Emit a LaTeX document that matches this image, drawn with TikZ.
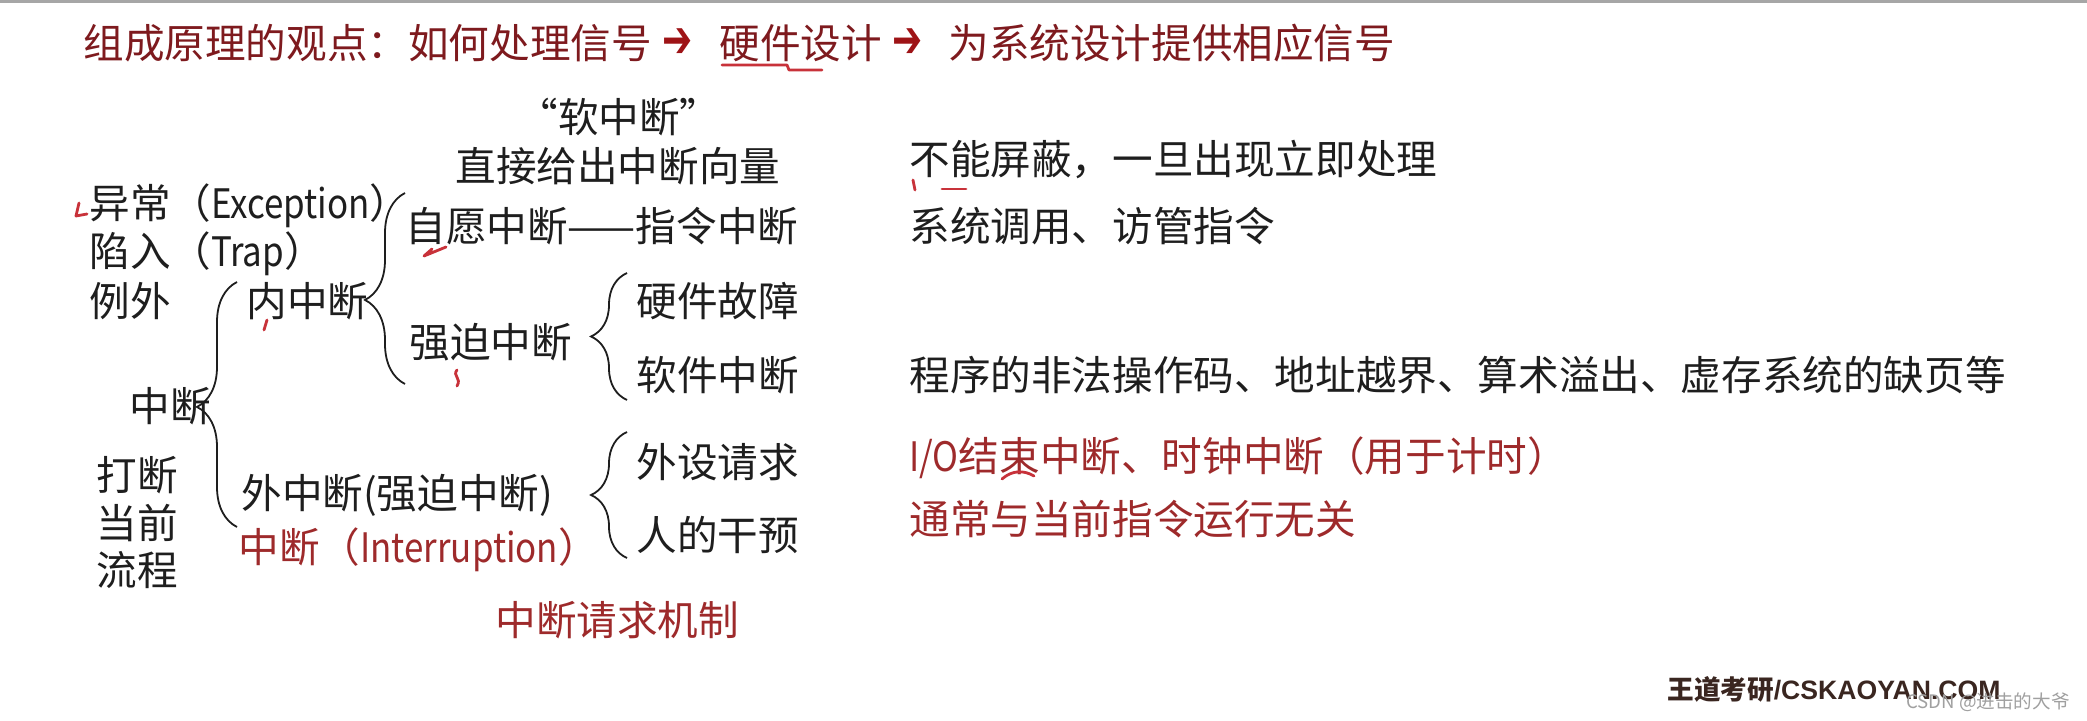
\documentclass[tikz,border=0pt]{standalone}
\usepackage{graphicx}
\usepackage{fontspec}
\setmainfont{Noto Sans CJK SC}
\newfontfamily\lat[FakeStretch=0.86]{Noto Sans CJK SC}
\newfontfamily\dejavu{DejaVu Sans}
\newfontfamily\brandlat{Liberation Sans}
\usetikzlibrary{decorations.pathreplacing}
\definecolor{ink}{HTML}{1E1E1E}
\definecolor{dred}{HTML}{7E1A1E}
\definecolor{tred}{HTML}{9E2A2B}
\definecolor{pen}{HTML}{C8323A}
\definecolor{wm}{HTML}{A0A0A0}
\definecolor{brand}{HTML}{3A2620}
\begin{document}
\begin{tikzpicture}[x=0.5pt,y=-0.5pt,
  txt/.style={anchor=west, inner sep=0, text=ink, font=\fontsize{20.3pt}{24pt}\selectfont},
  ttl/.style={anchor=west, inner sep=0, text=dred, font=\fontsize{20.3pt}{24pt}\selectfont},
  arw/.style={anchor=west, inner sep=0, text=dred!75!red, font=\dejavu\bfseries\fontsize{18pt}{22pt}\selectfont},
  rtxt/.style={txt, text=tred},
  brc/.style={draw=ink, line width=0.9pt, decorate, decoration={brace, amplitude=#1}},
  brc/.default=20,
  penmark/.style={draw=pen, line width=1.4pt, line cap=round, line join=round}]
\useasboundingbox (0,0) rectangle (2087,721);
\fill[white] (0,0) rectangle (2087,721);
\draw[gray!70, line width=1.5pt] (0,2) -- (2087,2);
% title
\node[ttl] (t1) at (83,43) {组成原理的观点：如何处理信号};
\node[arw] (a1) at (662,43) {\scalebox{1}[1.45]{➔}};
\node[ttl] (t2) at (719,43) {硬件设计};
\node[arw] (a2) at (892,43) {\scalebox{1}[1.45]{➔}};
\node[ttl] (t3) at (948,43) {为系统设计提供相应信号};
% tree
\node[txt, anchor=center] (soft) at (619,117) {“软中断”};
\node[txt] (vec) at (455,166) {直接给出中断向量};
\node[txt] (exc) at (89,206) {异常（{\lat Exception}）};
\node[txt] (trap) at (89,254) {陷入（{\lat Trap}）};
\node[txt] (liwai) at (89,301) {例外};
\node[txt] (zd) at (129,406) {中断};
\node[txt] (dd1) at (96,475) {打断};
\node[txt] (dd2) at (96,523) {当前};
\node[txt] (dd3) at (96,570) {流程};
\node[txt] (nei) at (246,301) {内中断};
\node[txt] (wai) at (241,495) {外中断(强迫中断)};
\node[rtxt] (intr) at (238,550) {中断（{\lat Interruption}）};
\node[txt] (zy) at (405,226) {自愿中断——指令中断};
\node[txt] (qp) at (409,342) {强迫中断};
\node[txt] (yj) at (636,301) {硬件故障};
\node[txt] (rj) at (636,375) {软件中断};
\node[txt] (ws) at (636,462) {外设请求};
\node[txt] (rg) at (636,535) {人的干预};
\node[rtxt] (mech) at (495,620) {中断请求机制};
% right column
\node[txt] (c1) at (909,160) {不能屏蔽，一旦出现立即处理};
\node[txt] (c2) at (909,226) {系统调用、访管指令};
\node[txt] (c3) at (909,375) {程序的非法操作码、地址越界、算术溢出、虚存系统的缺页等};
\node[rtxt] (c4) at (909,458) {{\lat I/O}结束中断、时钟中断（用于计时）};
\node[rtxt] (c5) at (909,519) {通常与当前指令运行无关};
% braces
\draw[brc, decoration={aspect=0.49}] (237,527) -- (237,282);
\draw[brc, decoration={aspect=0.44}] (405,384) -- (405,193);
\draw[brc=18, decoration={aspect=0.50}] (627,400) -- (627,273);
\draw[brc=18, decoration={aspect=0.50}] (627,558) -- (627,432);
% pen marks
\draw[penmark] (722,65) -- (787,65) -- (789,70) -- (822,70);
\draw[penmark] (79,203) -- (76,216) -- (87,214);
\draw[penmark] (446,247) -- (424,256) -- (432,249);
\draw[penmark] (267,320) -- (264,330);
\draw[penmark] (457,370) .. controls (452,376) and (462,378) .. (457,386);
\draw[penmark] (913,180) -- (915,190);
\draw[penmark] (942,189) -- (966,189);
\draw[penmark] (1002,479) .. controls (1012,470) and (1024,470) .. (1034,476);
% footer
\node[anchor=west, inner sep=0, text=brand, font=\bfseries\fontsize{13.3pt}{15pt}\selectfont] (brandtxt) at (1667,689) {王道考研{\brandlat\bfseries /CSKAOYAN.COM}};
\node[anchor=east, inner sep=0, text=wm, font=\fontsize{9.3pt}{11pt}\selectfont] (csdn) at (2070,702) {CSDN @进击的大爷};
\end{tikzpicture}
\end{document}
